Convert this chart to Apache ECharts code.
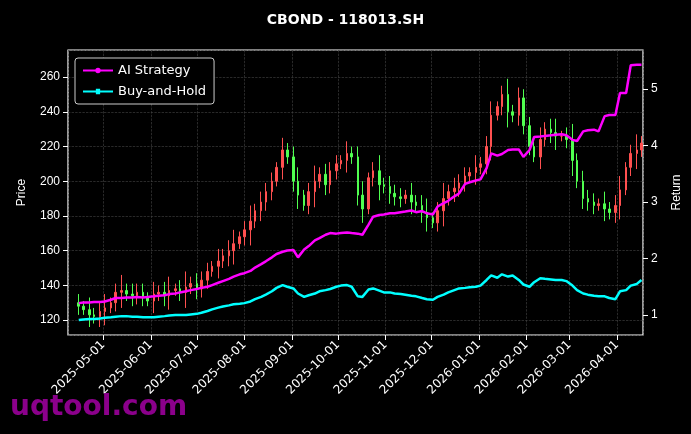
<!DOCTYPE html>
<html><head><meta charset="utf-8">
<script src="https://cdn.jsdelivr.net/npm/echarts@6/dist/echarts.min.js"></script>
<style>html,body{margin:0;padding:0;background:#000}#c{width:691px;height:434px}</style>
</head><body><div id="c"></div>
<script>
// Tue/Fri sample dates from 2025-04-15 to 2026-04-17
const closes = [
128,126,123,122,125,
127,130,136,137,135,134,136,133,131,
135,136,134,137,138,136,139,141,
138,143,148,151,154,157,160,164,168,
172,177,183,188,194,200,208,218,214,
200,192,186,194,200,204,198,206,210,
212,216,214,192,184,202,206,198,197,
193,191,190,192,188,186,182,179,
176,183,190,194,196,199,203,205,208,
210,220,238,243,250,240,238,248,232,
220,214,224,230,228,226,226,224,
212,200,190,188,186,187,184,182,186,
195,208,216,218,222];
const aiReturn = [
1.21,1.22,1.22,1.23,1.23,
1.24,1.27,1.30,1.30,1.31,1.31,1.32,1.31,1.32,
1.33,1.34,1.35,1.37,1.38,1.40,1.42,1.44,
1.46,1.48,1.50,1.53,1.57,1.60,1.64,1.68,1.72,
1.74,1.78,1.84,1.90,1.95,2.02,2.08,2.12,2.14,
2.15,2.02,2.16,2.22,2.32,2.36,2.42,2.45,2.44,
2.45,2.46,2.45,2.44,2.42,2.60,2.74,2.77,2.78,
2.80,2.80,2.82,2.83,2.85,2.82,2.84,2.80,
2.78,2.92,2.98,3.02,3.10,3.15,3.32,3.35,3.38,
3.40,3.60,3.86,3.82,3.85,3.92,3.93,3.93,3.80,
3.92,4.15,4.16,4.17,4.18,4.19,4.20,4.18,
4.10,4.08,4.25,4.27,4.28,4.25,4.52,4.54,4.54,
4.93,4.93,5.42,5.43,5.43];
const bhReturn = [
0.91,0.92,0.93,0.93,0.94,
0.95,0.96,0.97,0.98,0.98,0.97,0.97,0.96,0.96,
0.96,0.97,0.98,0.99,1.0,1.0,1.0,1.01,
1.02,1.04,1.07,1.10,1.13,1.15,1.17,1.19,1.20,
1.21,1.24,1.28,1.32,1.36,1.42,1.48,1.53,1.50,
1.47,1.38,1.32,1.35,1.38,1.42,1.44,1.46,1.50,
1.52,1.53,1.50,1.33,1.32,1.45,1.47,1.43,1.40,
1.40,1.38,1.37,1.36,1.34,1.33,1.30,1.28,
1.27,1.32,1.36,1.40,1.44,1.47,1.48,1.49,1.50,
1.52,1.62,1.70,1.66,1.72,1.68,1.70,1.62,1.54,
1.50,1.58,1.65,1.64,1.63,1.62,1.62,1.60,
1.52,1.44,1.38,1.36,1.34,1.33,1.33,1.30,1.28,
1.42,1.44,1.52,1.55,1.62];
const wick = [5,3,7,4,6,8,3,5,9,4,6,5];

const dates = [];
let t = Date.UTC(2025,3,15);
for (let i=0;i<closes.length;i++){ dates.push(t); t += (i%2===0?3:4)*86400000; }
const candles = closes.map((c,i)=>{
  const o = i===0 ? c+2 : closes[i-1];
  const w = wick[i%wick.length];
  return [dates[i], o, c, Math.min(o,c)-w, Math.max(o,c)+w];
});
const chart = echarts.init(document.getElementById('c'));
const white = '#ffffff';
chart.setOption({
  backgroundColor:'#000',
  animation:false,
  title:{text:'CBOND - 118013.SH',left:'center',top:8,textStyle:{color:white,fontSize:14,fontWeight:'bold',fontFamily:'DejaVu Sans'}},
  grid:{left:68,right:48,top:50,bottom:99,show:true,borderColor:white,borderWidth:1.2,backgroundColor:'#000'},
  legend:{left:75,top:58,orient:'vertical',itemGap:8,padding:[6,8],borderColor:'#ccc',borderWidth:1,borderRadius:3,backgroundColor:'#000',
    textStyle:{color:white,fontSize:13,fontFamily:'DejaVu Sans'},itemWidth:30,itemHeight:8,
    data:[{name:'AI Strategy',icon:'path://M0,3H28V5H0Z M14,1.5A2.5,2.5 0 1 1 13.99,1.5Z'},{name:'Buy-and-Hold',icon:'path://M0,3H28V5H0Z M12,1.5H16V6.5H12Z'}]},
  xAxis:{type:'time',min:Date.UTC(2025,3,8),max:Date.UTC(2026,3,18),splitNumber:12,
    axisLine:{show:false},axisTick:{lineStyle:{color:white}},
    axisLabel:{color:white,rotate:45,fontSize:12,fontFamily:'DejaVu Sans',formatter:'{yyyy}-{MM}-{dd}',hideOverlap:false},
    splitLine:{show:true,lineStyle:{color:'#444',type:'dashed',width:0.6}}},
  yAxis:[
    {type:'value',min:111.4,max:275.6,splitNumber:8,name:'Price',nameLocation:'middle',nameGap:40,nameTextStyle:{color:white,fontSize:12},
     axisLine:{show:false},axisTick:{show:true,lineStyle:{color:white}},
     axisLabel:{color:white,fontSize:12,showMinLabel:false,showMaxLabel:false},
     splitLine:{show:true,lineStyle:{color:'#444',type:'dashed',width:0.6}}},
    {type:'value',min:0.646,max:5.69,splitNumber:5,name:'Return',nameLocation:'middle',nameGap:28,nameRotate:90,nameTextStyle:{color:white,fontSize:12},
     axisLine:{show:false},axisTick:{show:true,lineStyle:{color:white}},
     axisLabel:{color:white,fontSize:12,showMinLabel:false,showMaxLabel:false},splitLine:{show:false}}
  ],
  series:[
    {type:'candlestick',name:'Price',data:candles,barWidth:2,yAxisIndex:0,
     itemStyle:{color:'#ff5050',color0:'#50ff50',borderColor:'#ff5050',borderColor0:'#50ff50',borderWidth:1}},
    {type:'line',name:'AI Strategy',yAxisIndex:1,data:dates.map((d,i)=>[d,aiReturn[i]]),showSymbol:false,lineStyle:{color:'#ff00ff',width:2.5},itemStyle:{color:'#ff00ff'}},
    {type:'line',name:'Buy-and-Hold',yAxisIndex:1,data:dates.map((d,i)=>[d,bhReturn[i]]),showSymbol:false,lineStyle:{color:'#00ffff',width:2.5},itemStyle:{color:'#00ffff'}}
  ],
  graphic:[{type:'text',left:10,top:394,style:{text:'uqtool.com',fill:'#8b008b',font:'bold 28px DejaVu Sans'},z:100}]
});
</script></body></html>
